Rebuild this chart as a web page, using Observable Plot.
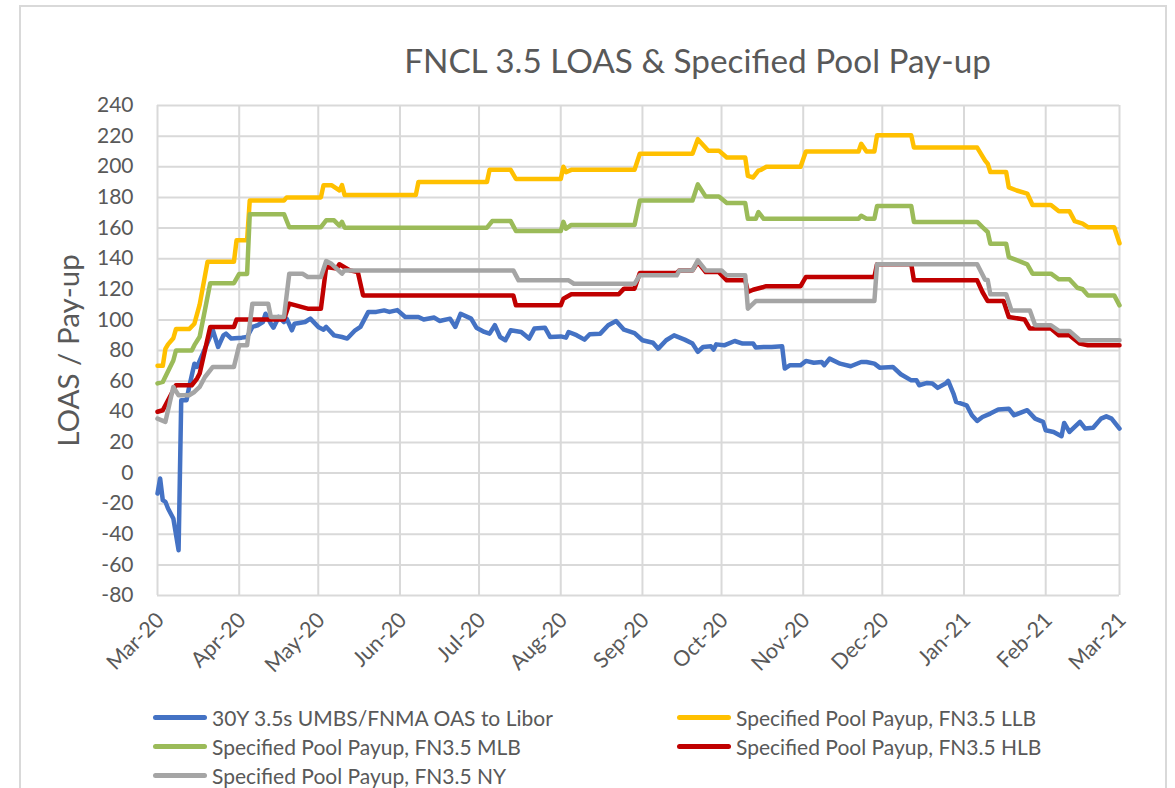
<!DOCTYPE html>
<html>
<head>
<meta charset="utf-8">
<script src="https://cdn.jsdelivr.net/npm/d3@7"></script>
<script src="https://cdn.jsdelivr.net/npm/@observablehq/plot@0.6"></script>
<style>
  body { margin: 0; background: #fff; }
  #wrap { position: relative; width: 1175px; height: 788px; overflow: hidden; font-family: Lato, "Open Sans", sans-serif; color: #595959; }
  #frame { position: absolute; left: 19px; top: 5px; width: 1148px; height: 900px; border: 2px solid #d9d9d9; box-sizing: border-box; }
  #chart { position: absolute; left: 0; top: 0; }
  .leg { position: absolute; height: 28px; display: flex; align-items: center; font-size: 21px; white-space: nowrap; }
  .sw { width: 54px; height: 5px; border-radius: 3px; margin-right: 5px; }
</style>
</head>
<body>
<div id="wrap">
  <div id="frame"></div>
  <div id="chart"></div>
  <div id="legend"></div>
</div>
<script>
const titleText = "FNCL 3.5 LOAS & Specified Pool Pay-up";
const yLabelText = "LOAS / Pay-up";
const yTicks = [-80, -60, -40, -20, 0, 20, 40, 60, 80, 100, 120, 140, 160, 180, 200, 220, 240];
const monthTicks = ["2020-03-01","2020-04-01","2020-05-01","2020-06-01","2020-07-01","2020-08-01","2020-09-01","2020-10-01","2020-11-01","2020-12-01","2021-01-01","2021-02-01","2021-03-01"];
const monthLabels = ["Mar-20","Apr-20","May-20","Jun-20","Jul-20","Aug-20","Sep-20","Oct-20","Nov-20","Dec-20","Jan-21","Feb-21","Mar-21"];

const seriesNames = [
  "30Y 3.5s UMBS/FNMA OAS to Libor",
  "Specified Pool Payup, FN3.5 LLB",
  "Specified Pool Payup, FN3.5 MLB",
  "Specified Pool Payup, FN3.5 HLB",
  "Specified Pool Payup, FN3.5 NY"
];
const seriesColors = ["#4472C4", "#FFC000", "#9BBB59", "#C00000", "#A5A5A5"];

// 30Y 3.5s UMBS/FNMA OAS to Libor
const oas = [
  ["2020-03-01",-13.4],["2020-03-02",-3.6],["2020-03-03",-17.7],["2020-03-04",-18.8],["2020-03-05",-23.2],
  ["2020-03-07",-29.7],["2020-03-09",-50.4],["2020-03-10",47.5],["2020-03-12",47.5],["2020-03-13",56],
  ["2020-03-15",71.4],["2020-03-16",69.3],["2020-03-19",81.2],["2020-03-22",93.2],["2020-03-24",82.3],
  ["2020-03-26",89.9],["2020-03-27",91],["2020-03-29",87.8],["2020-04-02",88.4],["2020-04-04",88.8],
  ["2020-04-06",95.4],["2020-04-08",96.5],["2020-04-10",98.6],["2020-04-11",104],["2020-04-13",97.5],
  ["2020-04-14",94.9],["2020-04-16",101.9],["2020-04-18",98.6],["2020-04-19",100.8],["2020-04-21",93.2],
  ["2020-04-22",97.5],["2020-04-26",98.6],["2020-04-28",100.8],["2020-05-01",95.4],["2020-05-03",93.6],
  ["2020-05-04",95.4],["2020-05-07",89.9],["2020-05-10",88.8],["2020-05-12",87.8],["2020-05-15",93.2],
  ["2020-05-17",95.4],["2020-05-20",105.2],["2020-05-23",105.2],["2020-05-26",106.2],["2020-05-28",105.2],
  ["2020-05-31",106.4],["2020-06-03",101.9],["2020-06-08",101.9],["2020-06-10",100.2],["2020-06-14",101.5],
  ["2020-06-16",99.3],["2020-06-20",100.8],["2020-06-22",95.4],["2020-06-24",104],["2020-06-28",100.8],
  ["2020-06-30",94.9],["2020-07-03",92.1],["2020-07-05",91],["2020-07-07",96.5],["2020-07-09",88.8],
  ["2020-07-11",86.7],["2020-07-13",93.2],["2020-07-17",92.1],["2020-07-20",87.8],["2020-07-22",94.3],
  ["2020-07-26",94.9],["2020-07-28",88.8],["2020-08-01",89.2],["2020-08-03",88.4],["2020-08-04",92.1],
  ["2020-08-07",90],["2020-08-10",87.1],["2020-08-12",90.6],["2020-08-16",91],["2020-08-19",96.5],
  ["2020-08-22",99.3],["2020-08-25",93.6],["2020-08-29",91.4],["2020-09-01",86.7],["2020-09-05",85.1],
  ["2020-09-07",81.2],["2020-09-10",86.7],["2020-09-13",89.9],["2020-09-17",87.1],["2020-09-20",84.5],
  ["2020-09-22",79.1],["2020-09-24",82.3],["2020-09-27",82.7],["2020-09-28",80.6],["2020-09-29",84],
  ["2020-10-02",83.4],["2020-10-06",86.2],["2020-10-09",84.5],["2020-10-13",84.5],["2020-10-14",81.9],
  ["2020-10-17",82.3],["2020-10-20",82.3],["2020-10-24",82.7],["2020-10-25",68.2],["2020-10-27",70.4],
  ["2020-10-31",70.4],["2020-11-02",73.2],["2020-11-05",72],["2020-11-08",72.5],["2020-11-09",70.4],
  ["2020-11-11",74.7],["2020-11-15",71.4],["2020-11-19",69.7],["2020-11-23",72.5],["2020-11-25",72.5],
  ["2020-11-28",71.4],["2020-11-30",68.8],["2020-12-05",69.3],["2020-12-08",64.5],["2020-12-12",60.5],
  ["2020-12-14",60.5],["2020-12-15",57.3],["2020-12-18",58.8],["2020-12-20",58.4],["2020-12-22",55.6],
  ["2020-12-25",58.4],["2020-12-26",60.1],["2020-12-28",51.9],["2020-12-29",46.4],["2021-01-02",44.2],
  ["2021-01-04",37.7],["2021-01-06",34],["2021-01-08",36.6],["2021-01-11",38.8],["2021-01-14",41.4],
  ["2021-01-18",42],["2021-01-20",37.7],["2021-01-25",41],["2021-01-28",35.5],["2021-01-31",33.4],
  ["2021-02-01",27.9],["2021-02-04",26.8],["2021-02-07",24],["2021-02-08",32.7],["2021-02-10",26.8],
  ["2021-02-14",33.4],["2021-02-16",29],["2021-02-19",29.5],["2021-02-22",35.5],["2021-02-24",37],
  ["2021-02-26",35.5],["2021-03-01",29]
];

// Specified Pool Payup, FN3.5 LLB
const llb = [
  ["2020-03-01",70],["2020-03-03",70],["2020-03-04",81],["2020-03-05",84],["2020-03-07",88],["2020-03-08",94],
  ["2020-03-13",94],["2020-03-15",97.5],["2020-03-17",110],["2020-03-20",138],["2020-03-30",138],["2020-03-31",152],
  ["2020-04-04",152],["2020-04-05",178],["2020-04-18",178],["2020-04-19",180],["2020-05-02",180],["2020-05-03",188],
  ["2020-05-06",188],["2020-05-09",184.5],["2020-05-10",188],["2020-05-11",181.5],["2020-06-07",181.5],["2020-06-08",190],
  ["2020-07-04",190],["2020-07-05",198],["2020-07-13",198],["2020-07-15",192],["2020-08-01",192],["2020-08-02",200],
  ["2020-08-03",196.5],["2020-08-05",198],["2020-08-29",198],["2020-08-31",208.5],["2020-09-20",208.5],["2020-09-22",218],
  ["2020-09-26",210.5],["2020-09-30",210.5],["2020-10-03",206],["2020-10-10",206],["2020-10-11",194],["2020-10-13",193],
  ["2020-10-15",197.5],["2020-10-16",198],["2020-10-18",200],["2020-10-31",200],["2020-11-02",210],["2020-11-22",210],
  ["2020-11-23",215],["2020-11-25",210],["2020-11-28",210],["2020-11-29",220.5],["2020-12-12",220.5],["2020-12-13",212.5],
  ["2021-01-06",212.5],["2021-01-09",204],["2021-01-10",202],["2021-01-11",196.5],["2021-01-17",196.5],["2021-01-18",186.5],
  ["2021-01-21",184.5],["2021-01-25",182.5],["2021-01-27",175],["2021-02-03",175],["2021-02-06",171],["2021-02-10",171],
  ["2021-02-12",164.5],["2021-02-15",162.8],["2021-02-17",160.5],["2021-02-27",160.5],["2021-03-01",150]
];

// Specified Pool Payup, FN3.5 MLB
const mlb = [
  ["2020-03-01",58.5],["2020-03-03",59.5],["2020-03-07",73.5],["2020-03-08",80],["2020-03-14",80],["2020-03-15",83.5],
  ["2020-03-17",89],["2020-03-21",124],["2020-03-30",124],["2020-04-01",130],["2020-04-04",130],["2020-04-05",169],
  ["2020-04-18",169],["2020-04-20",160.5],["2020-05-02",160.5],["2020-05-04",165],["2020-05-07",165],["2020-05-09",161.5],
  ["2020-05-10",164],["2020-05-11",160.2],["2020-07-04",160.2],["2020-07-06",164.5],["2020-07-13",164.5],["2020-07-15",158],
  ["2020-08-01",158],["2020-08-02",164],["2020-08-03",159.5],["2020-08-05",162],["2020-08-29",162],["2020-08-31",178],
  ["2020-09-20",178],["2020-09-22",188.5],["2020-09-25",180.5],["2020-09-30",180.5],["2020-10-03",176.3],["2020-10-10",176.3],
  ["2020-10-11",166],["2020-10-14",166],["2020-10-15",170.4],["2020-10-17",166],["2020-11-22",166],["2020-11-23",168],
  ["2020-11-25",166],["2020-11-28",166],["2020-11-29",174.3],["2020-12-12",174.3],["2020-12-13",164],["2021-01-06",164],
  ["2021-01-08",160.6],["2021-01-10",157.4],["2021-01-11",149.7],["2021-01-17",149.7],["2021-01-18",141],["2021-01-21",139],
  ["2021-01-25",136.3],["2021-01-27",130.2],["2021-02-03",130.2],["2021-02-06",126.5],["2021-02-10",126.5],["2021-02-13",121],
  ["2021-02-15",120],["2021-02-17",116],["2021-02-27",116],["2021-03-01",109.5]
];

// Specified Pool Payup, FN3.5 HLB
const hlb = [
  ["2020-03-01",40],["2020-03-03",41],["2020-03-05",47.5],["2020-03-08",57.3],["2020-03-14",57.3],["2020-03-16",61.7],
  ["2020-03-17",65],["2020-03-21",95.4],["2020-03-30",95.4],["2020-03-31",100.2],["2020-04-18",100.2],["2020-04-20",110.6],
  ["2020-04-27",107.3],["2020-05-02",107.3],["2020-05-04",134.5],["2020-05-08",133.5],["2020-05-09",136.3],["2020-05-13",132.3],
  ["2020-05-16",131.2],["2020-05-18",116],["2020-07-14",116],["2020-07-15",109.5],["2020-08-01",109.5],["2020-08-02",113.8],
  ["2020-08-05",116.7],["2020-08-23",116.7],["2020-08-25",120.4],["2020-08-29",120.4],["2020-08-31",130.6],["2020-09-14",130.6],
  ["2020-09-15",132.3],["2020-09-20",132.3],["2020-09-22",137.8],["2020-09-25",131.2],["2020-09-30",131.2],["2020-10-03",125.8],
  ["2020-10-10",125.8],["2020-10-11",118.2],["2020-10-13",119.7],["2020-10-17",121.5],["2020-10-18",122],["2020-10-31",122],
  ["2020-11-02",128],["2020-11-28",128],["2020-11-29",136.3],["2020-12-12",136.3],["2020-12-13",125.8],["2021-01-06",125.8],
  ["2021-01-08",118.2],["2021-01-10",112.3],["2021-01-16",112.3],["2021-01-18",101.9],["2021-01-24",100.2],["2021-01-26",94.3],
  ["2021-02-03",94.3],["2021-02-06",89.9],["2021-02-10",89.9],["2021-02-14",84.5],["2021-02-17",83.4],["2021-03-01",83.4]
];

// Specified Pool Payup, FN3.5 NY
const ny = [
  ["2020-03-01",35.5],["2020-03-04",33.4],["2020-03-07",56.2],["2020-03-09",50.8],["2020-03-13",50.8],["2020-03-15",52.9],
  ["2020-03-17",56.2],["2020-03-19",62.7],["2020-03-22",69.3],["2020-03-30",69.3],["2020-04-01",83.4],["2020-04-04",83.4],
  ["2020-04-06",110.6],["2020-04-12",110.6],["2020-04-13",101.9],["2020-04-18",101.9],["2020-04-20",130.2],["2020-04-25",130.2],
  ["2020-04-27",128],["2020-05-02",128],["2020-05-04",138.4],["2020-05-06",136.6],["2020-05-10",130.2],["2020-05-11",132.3],
  ["2020-07-14",132.3],["2020-07-16",125.8],["2020-08-04",125.8],["2020-08-06",123.6],["2020-08-29",123.6],["2020-08-31",129.1],
  ["2020-09-14",129.1],["2020-09-15",132.3],["2020-09-20",132.3],["2020-09-22",138.9],["2020-09-25",132.3],["2020-10-01",132.3],
  ["2020-10-03",129.1],["2020-10-10",129.1],["2020-10-11",107.3],["2020-10-14",112.3],["2020-11-28",112.3],["2020-11-29",136.3],
  ["2021-01-06",136.3],["2021-01-09",126.2],["2021-01-10",126],["2021-01-11",116.7],["2021-01-17",116.7],["2021-01-19",106.2],
  ["2021-01-26",106.2],["2021-01-28",96.5],["2021-02-03",96.5],["2021-02-06",92.8],["2021-02-10",92.8],["2021-02-14",86.7],
  ["2021-03-01",86.7]
];

const allSeries = [oas, llb, mlb, hlb, ny];
const monthDates = monthTicks.map(s => new Date(s));
const labelOf = new Map(monthDates.map((d, i) => [+d, monthLabels[i]]));
const font = 'Lato, "Open Sans", sans-serif';

const lineMarks = allSeries.map((s, i) => Plot.line(s, {
  x: d => new Date(d[0]), y: d => d[1],
  stroke: seriesColors[i], strokeWidth: 4.5, strokeLinejoin: "round", strokeLinecap: "round"
}));

const chart = Plot.plot({
  width: 1175, height: 700,
  marginTop: 105, marginBottom: 105, marginLeft: 157, marginRight: 56,
  style: { fontFamily: font, color: "#595959", background: "transparent", overflow: "visible" },
  x: { type: "utc", domain: [monthDates[0], monthDates[monthDates.length - 1]] },
  y: { domain: [-80, 240] },
  marks: [
    Plot.gridY(yTicks, { stroke: "#d9d9d9", strokeOpacity: 1, strokeWidth: 2 }),
    Plot.gridX(monthDates, { stroke: "#d9d9d9", strokeOpacity: 1, strokeWidth: 2 }),
    Plot.axisY(yTicks, { tickSize: 0, tickPadding: 24, fontSize: 21, label: null, tickFormat: d => String(d) }),
    Plot.axisX(monthDates, { tickSize: 0, tickPadding: 21, dx: 3, tickRotate: -45, fontSize: 21.5, label: null, tickFormat: d => labelOf.get(+d) }),
    ...lineMarks,
    Plot.text([yLabelText], { frameAnchor: "left", textAnchor: "middle", dx: -88, rotate: -90, fontSize: 29.5 }),
    Plot.text([titleText], { frameAnchor: "top", textAnchor: "middle", dx: 59, dy: -33, lineAnchor: "bottom", fontSize: 33.3 })
  ]
});
document.getElementById("chart").appendChild(chart);

// legend (two columns, Excel-style)
const legendPos = [[153, 703], [677, 703], [153, 732], [677, 732], [153, 761]];
const legend = document.getElementById("legend");
seriesNames.forEach((name, i) => {
  const row = document.createElement("div");
  row.className = "leg";
  row.style.left = legendPos[i][0] + "px";
  row.style.top = legendPos[i][1] + "px";
  const sw = document.createElement("div");
  sw.className = "sw";
  sw.style.background = seriesColors[i];
  const tx = document.createElement("span");
  tx.textContent = name;
  row.appendChild(sw);
  row.appendChild(tx);
  legend.appendChild(row);
});
</script>
</body>
</html>
